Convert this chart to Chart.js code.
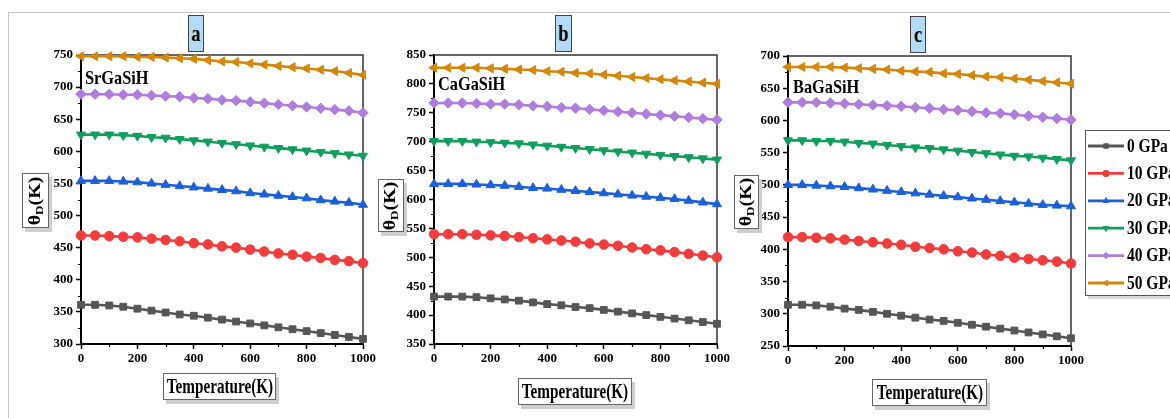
<!DOCTYPE html>
<html><head><meta charset="utf-8">
<script src="https://cdn.jsdelivr.net/npm/chart.js@4.4.1/dist/chart.umd.min.js"></script>
<style>
html,body{margin:0;padding:0;background:#fff;}
body{width:1170px;height:418px;position:relative;overflow:hidden;font-family:"Liberation Serif","Times New Roman",serif;}
.frame{position:absolute;left:8px;top:12px;width:1200px;height:420px;border-left:1px solid #c6c6c6;border-top:1px solid #c6c6c6;}
canvas{position:absolute;top:0;}
.title{position:absolute;background:#b2dbf8;border:1px solid #444;font-weight:bold;z-index:5;display:flex;align-items:center;justify-content:center;box-sizing:border-box;font-size:23px;color:#000;}
.title span{display:inline-block;transform:scaleX(0.8);}
.xl{position:absolute;background:#fff;border:1px solid #666;box-shadow:3px 4px 0 #cfcfcf;font-weight:bold;z-index:5;box-sizing:border-box;display:flex;align-items:center;justify-content:center;font-size:20px;color:#000;white-space:nowrap;}
.xl span{display:inline-block;transform:scaleX(0.76);}
.yl{position:absolute;background:#fff;border:1px solid #666;box-shadow:3px 4px 0 #cfcfcf;font-weight:bold;z-index:5;box-sizing:border-box;color:#000;}
.yl span{position:absolute;left:50%;top:50%;transform:translate(-50%,-50%) rotate(-90deg) scaleY(0.8);font-size:20px;white-space:nowrap;}
.yl sub{font-size:13px;vertical-align:-3px;}
.cmp{position:absolute;font-weight:bold;font-size:19px;color:#000;z-index:5;transform:scaleX(0.86);transform-origin:left top;white-space:nowrap;}
</style></head>
<body>
<div class="frame"></div>
<canvas id="ca" width="360" height="418" style="left:21px;width:360px;height:418px"></canvas>
<canvas id="cb" width="363" height="418" style="left:374px;width:363px;height:418px"></canvas>
<canvas id="cc" width="442" height="418" style="left:728px;width:442px;height:418px"></canvas>

<div class="title" style="left:188px;top:15px;width:16px;height:37px"><span>a</span></div>
<div class="title" style="left:555px;top:15px;width:17px;height:37px"><span>b</span></div>
<div class="title" style="left:910px;top:16px;width:16px;height:37px"><span>c</span></div>

<div class="cmp" style="left:85px;top:67px">SrGaSiH</div>
<div class="cmp" style="left:438px;top:73px">CaGaSiH</div>
<div class="cmp" style="left:793px;top:76px">BaGaSiH</div>

<div class="yl" style="left:22px;top:173px;width:27px;height:55px"><span>θ<sub>D</sub>(K)</span></div>
<div class="yl" style="left:378px;top:179px;width:26px;height:53px"><span>θ<sub>D</sub>(K)</span></div>
<div class="yl" style="left:734px;top:175px;width:25px;height:54px"><span>θ<sub>D</sub>(K)</span></div>

<div class="xl" style="left:163px;top:373px;width:113px;height:27px"><span>Temperature(K)</span></div>
<div class="xl" style="left:518px;top:378px;width:114px;height:27px"><span>Temperature(K)</span></div>
<div class="xl" style="left:872px;top:379px;width:115px;height:27px"><span>Temperature(K)</span></div>

<script>
// ---------- DATA ----------
const temperatures = [0,50,100,150,200,250,300,350,400,450,500,550,600,650,700,750,800,850,900,950,1000];
const pressureLabels = ['0 GPa','10 GPa','20 GPa','30 GPa','40 GPa','50 GPa'];

// SrGaSiH (panel a)
const srGaSiH_0GPa  = [361,361,360,358,355,352,349,346,344,341,338,335,332,329,326,323,320,317,314,311,308];
const srGaSiH_10GPa = [469,469,468,467,466,464,462,460,457,455,452,450,447,444,441,439,436,434,431,429,426];
const srGaSiH_20GPa = [554,554,554,553,552,550,548,546,544,542,540,538,535,533,531,529,527,524,522,520,517];
const srGaSiH_30GPa = [626,626,626,625,624,622,621,619,617,615,613,611,609,607,605,603,601,599,597,595,593];
const srGaSiH_40GPa = [689,689,689,688,688,687,686,685,683,682,680,679,677,675,673,671,669,667,665,663,660];
const srGaSiH_50GPa = [748,748,748,748,747,747,746,745,744,742,740,739,737,735,733,731,729,727,725,722,719];

// CaGaSiH (panel b)
const caGaSiH_0GPa  = [432,432,432,431,429,427,425,422,419,417,414,412,409,406,403,400,397,394,391,388,385];
const caGaSiH_10GPa = [540,540,540,539,538,537,535,533,531,529,527,524,522,520,517,514,512,509,506,503,500];
const caGaSiH_20GPa = [627,627,627,626,625,624,622,620,619,617,615,613,611,609,607,605,603,601,598,595,592];
const caGaSiH_30GPa = [701,701,701,700,699,698,697,695,693,691,689,687,685,683,681,679,677,675,673,671,669];
const caGaSiH_40GPa = [767,767,767,766,765,765,764,762,761,759,758,756,754,752,750,748,746,744,742,740,738];
const caGaSiH_50GPa = [828,828,828,828,827,826,825,824,822,821,819,818,816,814,812,810,808,806,804,802,800];

// BaGaSiH (panel c)
const baGaSiH_0GPa  = [314,314,313,311,308,306,303,300,297,294,291,289,286,283,280,277,274,271,268,265,262];
const baGaSiH_10GPa = [419,419,418,417,415,413,411,409,407,404,402,400,397,395,392,390,387,385,383,381,378];
const baGaSiH_20GPa = [500,500,499,498,497,495,493,491,489,487,485,483,481,479,477,475,473,471,469,468,467];
const baGaSiH_30GPa = [569,569,568,568,567,565,564,562,560,558,557,555,553,551,549,547,545,544,542,540,538];
const baGaSiH_40GPa = [628,628,628,627,626,625,624,623,622,620,619,617,616,614,612,611,609,607,605,603,601];
const baGaSiH_50GPa = [683,683,683,683,682,681,680,679,677,676,675,673,672,670,668,667,665,663,661,659,657];

// axis ranges / ticks
const xTickStep = 200;
const panelA_yRange = [300, 750];
const panelB_yRange = [350, 850];
const panelC_yRange = [250, 700];
const yTickStep = 50;

// ---------- STYLES ----------
const seriesColors = ['#565656','#f23c3c','#1b60d8','#109e5e','#b07cde','#d4870b'];
const seriesPointStyles = ['rect','circle','triangle','triangle','rectRot','triangle'];
const seriesPointRotation = [0,0,0,180,0,-90];
const seriesPointRadius = [4.8,4.8,5.2,5.2,5.2,5.2];
const tickFont = {family:'"Liberation Serif","Times New Roman",serif', weight:'bold', size:13};

function makeDatasets(seriesList){
  return seriesList.map((vals,i)=>({
    label: pressureLabels[i],
    data: temperatures.map((t,k)=>({x:t, y:vals[k]})),
    borderColor: seriesColors[i],
    backgroundColor: seriesColors[i],
    pointBackgroundColor: seriesColors[i],
    pointBorderColor: seriesColors[i],
    pointStyle: seriesPointStyles[i],
    rotation: seriesPointRotation[i],
    pointRadius: seriesPointRadius[i],
    pointBorderWidth: 1,
    borderWidth: 2.6,
    tension: 0,
    clip: false
  }));
}

const framePlugin = {
  id:'frameMinor',
  beforeDatasetsDraw(chart){
    const ctx = chart.ctx, a = chart.chartArea, xs = chart.scales.x, ys = chart.scales.y;
    ctx.save();
    ctx.strokeStyle = '#333'; ctx.lineWidth = 1.5;
    ctx.beginPath();
    ctx.moveTo(a.left, a.top); ctx.lineTo(a.right, a.top); ctx.lineTo(a.right, a.bottom);
    ctx.stroke();
    ctx.strokeStyle = '#000'; ctx.lineWidth = 1.2;
    ctx.beginPath();
    for(let v = xs.min + xTickStep/2; v < xs.max; v += xTickStep){
      const px = Math.round(xs.getPixelForValue(v)) + 0.5;
      ctx.moveTo(px, a.bottom); ctx.lineTo(px, a.bottom + 3);
    }
    for(let v = ys.min + yTickStep/2; v < ys.max; v += yTickStep){
      const py = Math.round(ys.getPixelForValue(v)) + 0.5;
      ctx.moveTo(a.left - 3, py); ctx.lineTo(a.left, py);
    }
    ctx.stroke();
    ctx.restore();
  }
};

const legendPlugin = {
  id:'sideLegend',
  afterDraw(chart){
    const opt = chart.options.plugins.sideLegend;
    if(!opt || !opt.show) return;
    const ctx = chart.ctx, ox = opt.offsetX;
    ctx.save();
    ctx.fillStyle = '#d8d8d8';
    ctx.fillRect(1088 - ox, 296, 100, 3);
    ctx.fillStyle = '#fff';
    ctx.fillRect(1085 - ox, 130, 100, 166);
    ctx.strokeStyle = '#555'; ctx.lineWidth = 1;
    ctx.strokeRect(1085.5 - ox, 130.5, 100, 165);
    chart.data.datasets.forEach((ds,i)=>{
      const y = 146 + i*27.4;
      ctx.strokeStyle = ds.borderColor; ctx.lineWidth = 2.8;
      ctx.beginPath(); ctx.moveTo(1088 - ox, y); ctx.lineTo(1124 - ox, y); ctx.stroke();
      ctx.fillStyle = ds.borderColor; ctx.strokeStyle = ds.borderColor; ctx.lineWidth = 1;
      Chart.helpers.drawPoint(ctx, {pointStyle: ds.pointStyle, rotation: ds.rotation, radius: 3.2, borderWidth: 1}, 1106 - ox, y);
      ctx.save();
      ctx.translate(1127 - ox, y + 1);
      ctx.scale(0.86, 1);
      ctx.fillStyle = '#000';
      ctx.font = 'bold 18px "Liberation Serif","Times New Roman",serif';
      ctx.textBaseline = 'middle';
      ctx.fillText(ds.label, 0, 0);
      ctx.restore();
    });
    ctx.restore();
  }
};

function plainTick(v){ return String(v); }

function makePanel(id, canvasLeft, canvasWidth, area, yRange, seriesList, withLegend){
  const ctx = document.getElementById(id).getContext('2d');
  const yAxisW = area.left - canvasLeft;
  const xAxisH = 30;
  return new Chart(ctx, {
    type:'line',
    data:{ datasets: makeDatasets(seriesList) },
    options:{
      responsive:false, animation:false, devicePixelRatio:1,
      layout:{ padding:{ left:0, top:area.top, right:canvasLeft + canvasWidth - area.right, bottom:418 - area.bottom - xAxisH } },
      plugins:{ legend:{display:false}, tooltip:{enabled:false}, sideLegend:{show:withLegend, offsetX:canvasLeft} },
      scales:{
        x:{ type:'linear', min:0, max:1000,
            ticks:{ stepSize:xTickStep, color:'#000', font:tickFont, padding:2, maxRotation:0, autoSkip:false, callback:plainTick },
            grid:{ drawOnChartArea:false, drawTicks:true, tickLength:5, tickColor:'#000', tickWidth:1.5 },
            border:{ display:true, color:'#000', width:2 },
            afterFit(s){ s.height = xAxisH; } },
        y:{ type:'linear', min:yRange[0], max:yRange[1],
            ticks:{ stepSize:yTickStep, color:'#000', font:tickFont, padding:3, autoSkip:false, callback:plainTick },
            grid:{ drawOnChartArea:false, drawTicks:true, tickLength:5, tickColor:'#000', tickWidth:1.5 },
            border:{ display:true, color:'#000', width:2 },
            afterFit(s){ s.width = yAxisW; } }
      }
    },
    plugins:[framePlugin, legendPlugin]
  });
}

makePanel('ca', 21, 360, {left:81, right:363, top:55, bottom:344}, panelA_yRange,
  [srGaSiH_0GPa, srGaSiH_10GPa, srGaSiH_20GPa, srGaSiH_30GPa, srGaSiH_40GPa, srGaSiH_50GPa], false);
makePanel('cb', 374, 363, {left:434, right:717, top:55, bottom:344}, panelB_yRange,
  [caGaSiH_0GPa, caGaSiH_10GPa, caGaSiH_20GPa, caGaSiH_30GPa, caGaSiH_40GPa, caGaSiH_50GPa], false);
makePanel('cc', 728, 442, {left:788, right:1071, top:56, bottom:346}, panelC_yRange,
  [baGaSiH_0GPa, baGaSiH_10GPa, baGaSiH_20GPa, baGaSiH_30GPa, baGaSiH_40GPa, baGaSiH_50GPa], true);
</script>
</body></html>
